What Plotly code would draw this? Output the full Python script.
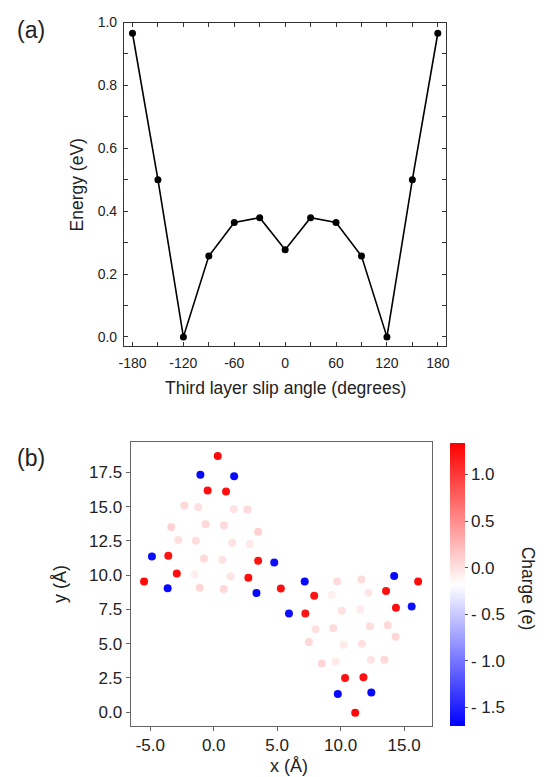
import plotly.graph_objects as go

# ---------------- Panel (a) data ----------------
slip_angle = [-180, -150, -120, -90, -60, -30, 0, 30, 60, 90, 120, 150, 180]
energy_ev = [0.966, 0.500, 0.000, 0.257, 0.364, 0.379, 0.277, 0.379, 0.364, 0.257, 0.000, 0.500, 0.966]
a_xtick_vals = [-180, -120, -60, 0, 60, 120, 180]
a_xtick_text = ["-180", "-120", "-60", "0", "60", "120", "180"]
a_ytick_vals = [0.0, 0.2, 0.4, 0.6, 0.8, 1.0]
a_ytick_text = ["0.0", "0.2", "0.4", "0.6", "0.8", "1.0"]

# ---------------- Panel (b) data ----------------
atom_x = [0.32, -1.05, 1.61, -0.48, 0.97, -2.31, -1.22, 1.57, 2.65, -3.35,
          -0.64, 0.81, 3.50, -2.80, -1.41, 1.46, 2.86, -4.87, -3.58, -0.76,
          0.68, 3.50, 4.77, -2.91, -1.51, 1.33, -5.49, 2.73, -3.63, -1.10,
          0.79, 3.37, 5.29, 7.17, 9.73, 11.64, 7.92, 9.29, 12.19, 13.58,
          14.22, 16.11, 14.36, 15.60, 5.93, 7.22, 10.09, 11.54, 8.02, 9.42,
          12.31, 13.71, 7.50, 10.22, 11.67, 14.33, 8.51, 9.60, 12.39, 13.45,
          10.35, 11.80, 9.78, 12.42, 11.15]
atom_y = [18.70, 17.33, 17.23, 16.18, 16.10, 15.09, 14.97, 14.83, 14.80, 13.51,
          13.72, 13.65, 13.17, 12.57, 12.52, 12.37, 12.28, 11.36, 11.41, 11.22,
          11.12, 11.05, 10.93, 10.11, 10.04, 9.90, 9.54, 9.80, 9.05, 9.08,
          8.98, 8.69, 9.03, 9.54, 9.54, 9.68, 8.50, 8.55, 8.72, 8.84,
          9.94, 9.54, 7.61, 7.71, 7.20, 7.20, 7.40, 7.49, 6.05, 6.12,
          6.26, 6.33, 5.11, 4.92, 4.99, 5.50, 3.55, 3.67, 3.81, 3.81,
          2.49, 2.54, 1.31, 1.43, -0.06]
atom_charge = [1.28, -1.65, -1.65, 1.25, 1.25, 0.05, 0.00, -0.01, 0.04, 0.08,
               0.05, 0.04, 0.10, 0.01, 0.02, 0.00, -0.04, -1.62, 1.22, 0.05,
               -0.01, 1.22, -1.62, 1.25, -0.08, -0.02, 1.28, 1.25, -1.65, 0.06,
               0.05, -1.65, 1.25, -1.65, 0.03, 0.03, 1.22, -0.09, -0.03, 1.25,
               -1.65, 1.28, 1.25, -1.62, -1.62, 1.22, 0.00, -0.07, 0.01, 0.03,
               0.02, 0.05, 0.06, -0.05, 0.00, 0.06, 0.07, -0.05, -0.02, 0.05,
               1.25, 1.25, -1.65, -1.65, 1.28]
b_xtick_vals = [-5, 0, 5, 10, 15]
b_xtick_text = ["-5.0", "0.0", "5.0", "10.0", "15.0"]
b_ytick_vals = [0, 2.5, 5, 7.5, 10, 12.5, 15, 17.5]
b_ytick_text = ["0.0", "2.5", "5.0", "7.5", "10.0", "12.5", "15.0", "17.5"]
cb_tick_vals = [1.0, 0.5, 0.0, -0.5, -1.0, -1.5]
cb_tick_text = ["1.0", "0.5", "0.0", "- 0.5", "- 1.0", "- 1.5"]

FONT = "Liberation Sans, Arial, Helvetica, sans-serif"
W, H = 549, 777

fig = go.Figure()

fig.add_trace(go.Scatter(
    x=slip_angle, y=energy_ev, mode="lines+markers",
    line=dict(color="black", width=1.6),
    marker=dict(color="black", size=7),
    xaxis="x", yaxis="y", showlegend=False,
))

fig.add_trace(go.Scatter(
    x=atom_x, y=atom_y, mode="markers",
    marker=dict(
        color=atom_charge, size=8, cmin=-1.70, cmax=1.34,
        colorscale=[[0, "rgb(0,0,255)"], [0.5, "rgb(255,255,255)"], [1, "rgb(255,0,0)"]],
        line=dict(width=0),
        colorbar=dict(
            x=452.7 / W, xanchor="left", xref="paper",
            y=1 - 725.3 / H, yanchor="bottom", yref="paper",
            len=(725.3 - 439.3) / H, lenmode="fraction",
            thickness=15, thicknessmode="pixels",
            outlinewidth=0,
            tickmode="array", tickvals=cb_tick_vals, ticktext=cb_tick_text,
            ticks="outside", ticklen=3, tickcolor="#555", tickwidth=1,
            tickfont=dict(family=FONT, size=17, color="#222"),
            ypad=0, xpad=0,
        ),
    ),
    xaxis="x2", yaxis="y2", showlegend=False,
))

a_line = dict(showline=True, linecolor="#333", linewidth=1.2, mirror="ticks",
              ticks="inside", ticklen=4, tickcolor="#333", tickwidth=1,
              showgrid=False, zeroline=False,
              tickfont=dict(family=FONT, size=14, color="#222"))
b_line = dict(showline=True, linecolor="#666", linewidth=1.2, mirror=True,
              ticks="outside", ticklen=4, tickcolor="#666", tickwidth=1,
              showgrid=False, zeroline=False,
              tickfont=dict(family=FONT, size=17, color="#222"))

fig.update_layout(
    width=W, height=H,
    margin=dict(l=0, r=0, t=0, b=0),
    paper_bgcolor="white", plot_bgcolor="white",
    font=dict(family=FONT, color="#222"),
    xaxis=dict(domain=[121 / W, 448.3 / W], anchor="y", range=[-190, 189.6],
               tickmode="array", tickvals=a_xtick_vals, ticktext=a_xtick_text,
               minor=dict(dtick=30, tick0=-180, ticks="inside", ticklen=4, tickcolor="#333"),
               ticklabelstandoff=4,
               **a_line),
    yaxis=dict(domain=[1 - 341.7 / H, 1 - 14.7 / H], anchor="x", range=[-0.0296, 1.0],
               tickmode="array", tickvals=a_ytick_vals, ticktext=a_ytick_text,
               minor=dict(dtick=0.1, tick0=0, ticks="inside", ticklen=4, tickcolor="#333"),
               ticklabelstandoff=3,
               **a_line),
    xaxis2=dict(domain=[127.7 / W, 433.7 / W], anchor="y2", range=[-6.55, 17.17],
                tickmode="array", tickvals=b_xtick_vals, ticktext=b_xtick_text,
                **b_line),
    yaxis2=dict(domain=[1 - 725.3 / H, 1 - 439 / H], anchor="x2", range=[-1.01, 19.69],
                tickmode="array", tickvals=b_ytick_vals, ticktext=b_ytick_text,
                **b_line),
)

def label(text, xpx, ypx, size, angle=0):
    fig.add_annotation(text=text, x=xpx / W, y=1 - ypx / H, xref="paper", yref="paper",
                       xanchor="center", yanchor="middle", showarrow=False,
                       textangle=angle, font=dict(family=FONT, size=size, color="#222"))

label("(a)", 26.5, 22, 23)
label("(b)", 26, 455, 23)
label("Third layer slip angle (degrees)", 285.5, 384.3, 17.5)
label("Energy (eV)", 73, 178.5, 17.5, -90)
label("x (Å)", 289, 766, 18)
label("y (Å)", 56, 582, 18, -90)
label("Charge (e)", 532, 587, 17.5, 90)

fig.write_html(
    "out.html",
    config={"displayModeBar": False},
    post_script="document.documentElement.style.margin='0';document.body.style.margin='0';"
                "document.body.style.overflow='hidden';",
)
